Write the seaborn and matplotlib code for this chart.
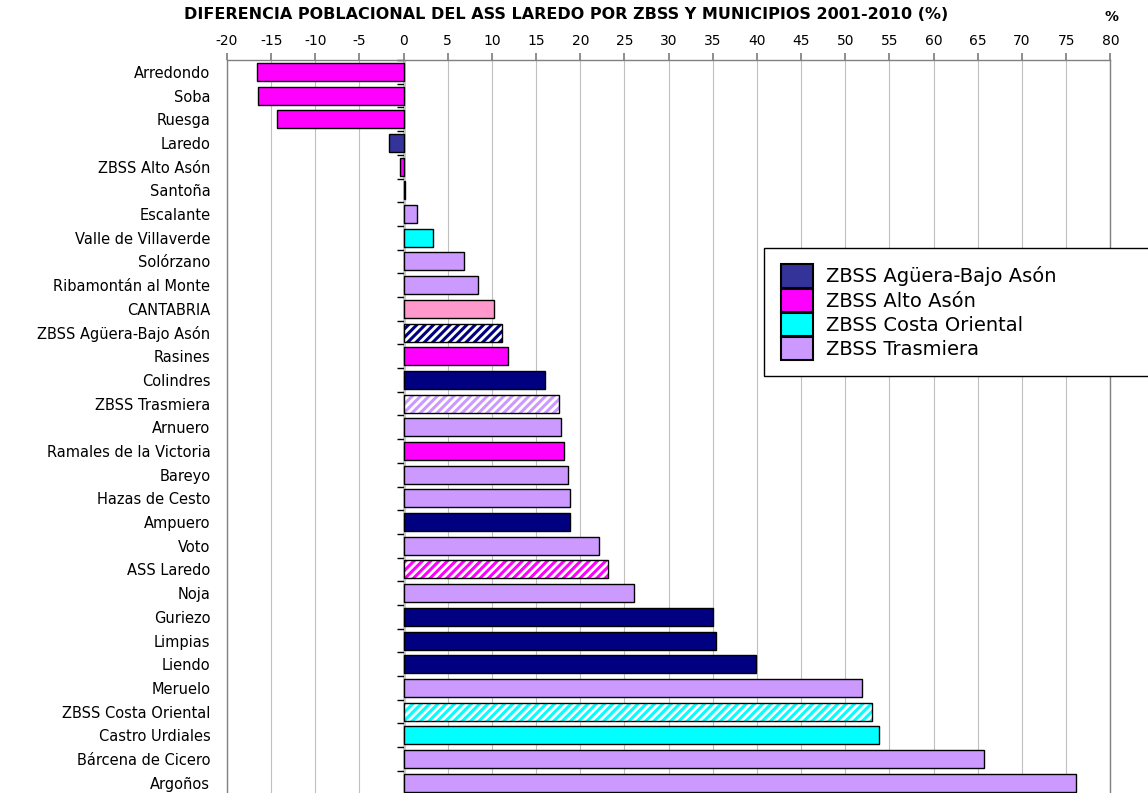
import numpy as np
import pandas as pd
import matplotlib.pyplot as plt
import matplotlib.patches as mpatches
import seaborn as sns

nombres = ['Arredondo', 'Soba', 'Ruesga', 'Laredo', 'ZBSS Alto Asón', 'Santoña',
           'Escalante', 'Valle de Villaverde', 'Solórzano', 'Ribamontán al Monte',
           'CANTABRIA', 'ZBSS Agüera-Bajo Asón', 'Rasines', 'Colindres',
           'ZBSS Trasmiera', 'Arnuero', 'Ramales de la Victoria', 'Bareyo',
           'Hazas de Cesto', 'Ampuero', 'Voto', 'ASS Laredo', 'Noja', 'Guriezo',
           'Limpias', 'Liendo', 'Meruelo', 'ZBSS Costa Oriental', 'Castro Urdiales',
           'Bárcena de Cicero', 'Argoños']
valores = [-16.6, -16.5, -14.3, -1.7, -0.4, 0.1,
           1.5, 3.3, 6.8, 8.4,
           10.2, 11.1, 11.8, 16.0,
           17.6, 17.8, 18.2, 18.6,
           18.8, 18.8, 22.1, 23.1, 26.1, 35.0,
           35.4, 39.9, 51.9, 53.0, 53.8,
           65.7, 76.1]
zonas = ['Alto', 'Alto', 'Alto', 'Aguera', 'Alto', 'Costa',
         'Trasmiera', 'Costa', 'Trasmiera', 'Trasmiera',
         'Cantabria', 'Aguera', 'Alto', 'Aguera',
         'Trasmiera', 'Trasmiera', 'Alto', 'Trasmiera',
         'Trasmiera', 'Aguera', 'Trasmiera', 'Alto', 'Trasmiera', 'Aguera',
         'Aguera', 'Aguera', 'Trasmiera', 'Costa', 'Costa',
         'Trasmiera', 'Trasmiera']
agregados = ['ZBSS Agüera-Bajo Asón', 'ZBSS Trasmiera', 'ASS Laredo', 'ZBSS Costa Oriental']
leyenda = ['ZBSS Agüera-Bajo Asón', 'ZBSS Alto Asón', 'ZBSS Costa Oriental', 'ZBSS Trasmiera']

color_zona = {'Aguera': '#000080', 'Alto': '#ff00ff', 'Costa': '#00ffff',
              'Trasmiera': '#cc99ff', 'Cantabria': '#ff99cc'}
color_leyenda = ['#333399', '#ff00ff', '#00ffff', '#cc99ff']

paleta = {n: color_zona[z] for n, z in zip(nombres, zonas)}
paleta['Laredo'] = '#333399'

df = pd.DataFrame({'nombre': nombres, 'valor': valores})

sns.set_theme(style='white')
plt.rcParams['font.family'] = ['DejaVu Sans']
plt.rcParams['axes.unicode_minus'] = False
plt.rcParams['hatch.linewidth'] = 2.2
plt.rcParams['text.color'] = 'black'

fig = plt.figure(figsize=(11.48, 7.93), dpi=100)
ax = fig.add_axes([0.1977, -0.002, 0.7695, 0.9263])

sns.barplot(data=df, x='valor', y='nombre', hue='nombre', palette=paleta,
            legend=False, width=0.76, edgecolor='black', linewidth=1,
            saturation=1, orient='h', ax=ax)

# barras rayadas para los agregados
for cont, nombre in zip(ax.containers, nombres):
    if nombre in agregados:
        for p in cont:
            p.set_facecolor('white')
            p.set_edgecolor(paleta[nombre])
            p.set_hatch('////')
            p.set_linewidth(0)
            ax.add_patch(mpatches.Rectangle(p.get_xy(), p.get_width(), p.get_height(),
                                            fill=False, edgecolor='black', lw=1, zorder=3))

xmin, xmax = -20, 80
ax.set_xlim(xmin, xmax)
ax.set_ylim(len(nombres) - 0.5, -0.5)
ax.xaxis.tick_top()
ax.set_xticks(range(xmin, xmax + 1, 5))
ax.grid(axis='x', color='#c0c0c0', lw=0.8)
ax.set_axisbelow(True)
ax.tick_params(axis='x', top=True, bottom=False, direction='out', length=5,
               color='#808080', labelcolor='black', labelsize=10, pad=4)
ax.tick_params(axis='y', left=False, length=0, pad=12, labelsize=10.5, labelcolor='black')
ax.set_xlabel('')
ax.set_ylabel('')
for s in ['top', 'left', 'right']:
    ax.spines[s].set_color('#808080')
    ax.spines[s].set_linewidth(1)
ax.spines['bottom'].set_visible(False)

# eje de categorias en el cero
sec = ax.secondary_yaxis((0 - xmin) / (xmax - xmin))
sec.set_yticks(np.arange(-0.5, len(nombres), 1))
sec.set_yticklabels([])
sec.tick_params(length=5, color='black', width=1)
sec.spines['left'].set_color('black')
sec.spines['left'].set_linewidth(1)

fig.text(0.493, 0.982, 'DIFERENCIA POBLACIONAL DEL ASS LAREDO POR ZBSS Y MUNICIPIOS 2001-2010 (%)',
         ha='center', va='center', fontsize=11.5, fontweight='bold')
fig.text(0.9686, 0.979, '%', ha='center', va='center', fontsize=10, fontweight='bold')

handles = [mpatches.Patch(facecolor=c, edgecolor='black', lw=1.5) for c in color_leyenda]
fig.legend(handles, leyenda, loc='upper left',
           bbox_to_anchor=(0.6655, 0.5, 0.345, 0.1873), mode='expand',
           fontsize=14, frameon=True, fancybox=False, framealpha=1,
           edgecolor='black', handlelength=1.65, handleheight=1.45,
           handletextpad=0.7, labelspacing=0.05, borderpad=0.85, borderaxespad=0)

fig.savefig('out.png', dpi=100)
